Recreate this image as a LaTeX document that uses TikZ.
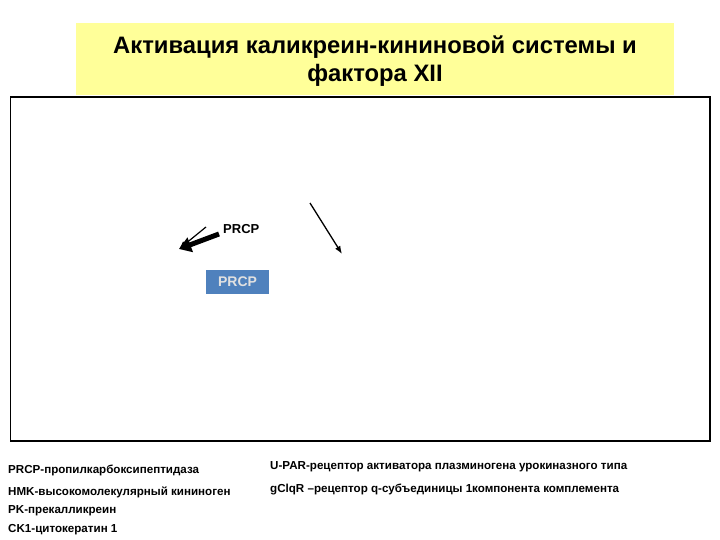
\documentclass[tikz,border=0pt]{standalone}
\usepackage{fontspec}
\setmainfont{Liberation Sans}
\usetikzlibrary{arrows.meta}
\begin{document}
\begin{tikzpicture}[x=1pt,y=-1pt,
  legend/.style={anchor=west,inner sep=0pt,font=\fontsize{11.6}{13}\selectfont\bfseries},
  arr/.style={draw=black,-{Latex[length=8pt,width=7pt]}}]
\useasboundingbox (0,0) rectangle (720,540);
% title box
\fill[fill={rgb,255:red,255;green,255;blue,153}] (76,23) rectangle (674,95);
\node[align=center,font=\fontsize{23.8}{28}\selectfont\bfseries] (title) at (375,61)
  {Активация каликреин-кининовой системы и\\фактора XII};
% frame
\draw[line width=1.6pt] (10.5,97) rectangle (710,441);
% arrows
\coordinate (tipA) at (179,249);
\coordinate (thinS) at (206,227);
\coordinate (thickS) at (219,234);
\draw[line width=1.2pt,arr] (thinS) -- (tipA);
\draw[line width=5pt,-{Triangle[length=12pt,width=15pt]}] (thickS) -- (tipA);
\node[font=\fontsize{13}{15}\selectfont\bfseries,inner sep=0pt,anchor=west] (lab) at (223,229) {PRCP};
\coordinate (rS) at (310,203);
\coordinate (rT) at (342,254);
\draw[line width=1.3pt,-{Latex[length=8pt,width=6pt]}] (rS) -- (rT);
% blue box
\node[fill={rgb,255:red,79;green,129;blue,189},text={rgb,255:red,225;green,225;blue,225},
  font=\fontsize{14}{15}\selectfont\bfseries,minimum width=63pt,minimum height=24pt,inner sep=0pt] (box) at (237.5,282) {PRCP};
% legend
\node[legend] (l1) at (8,470) {PRCP-пропилкарбоксипептидаза};
\node[legend] (l2) at (8,492) {HMK-высокомолекулярный кининоген};
\node[legend] (l3) at (8,511) {PK-прекалликреин};
\node[legend] (l4) at (8,530) {CK1-цитокератин 1};
\node[legend] (r1) at (270,467) {U-PAR-рецептор активатора плазминогена урокиназного типа};
\node[legend] (r2) at (270,489) {gClqR –рецептор q-субъединицы 1компонента комплемента};
\end{tikzpicture}
\end{document}
